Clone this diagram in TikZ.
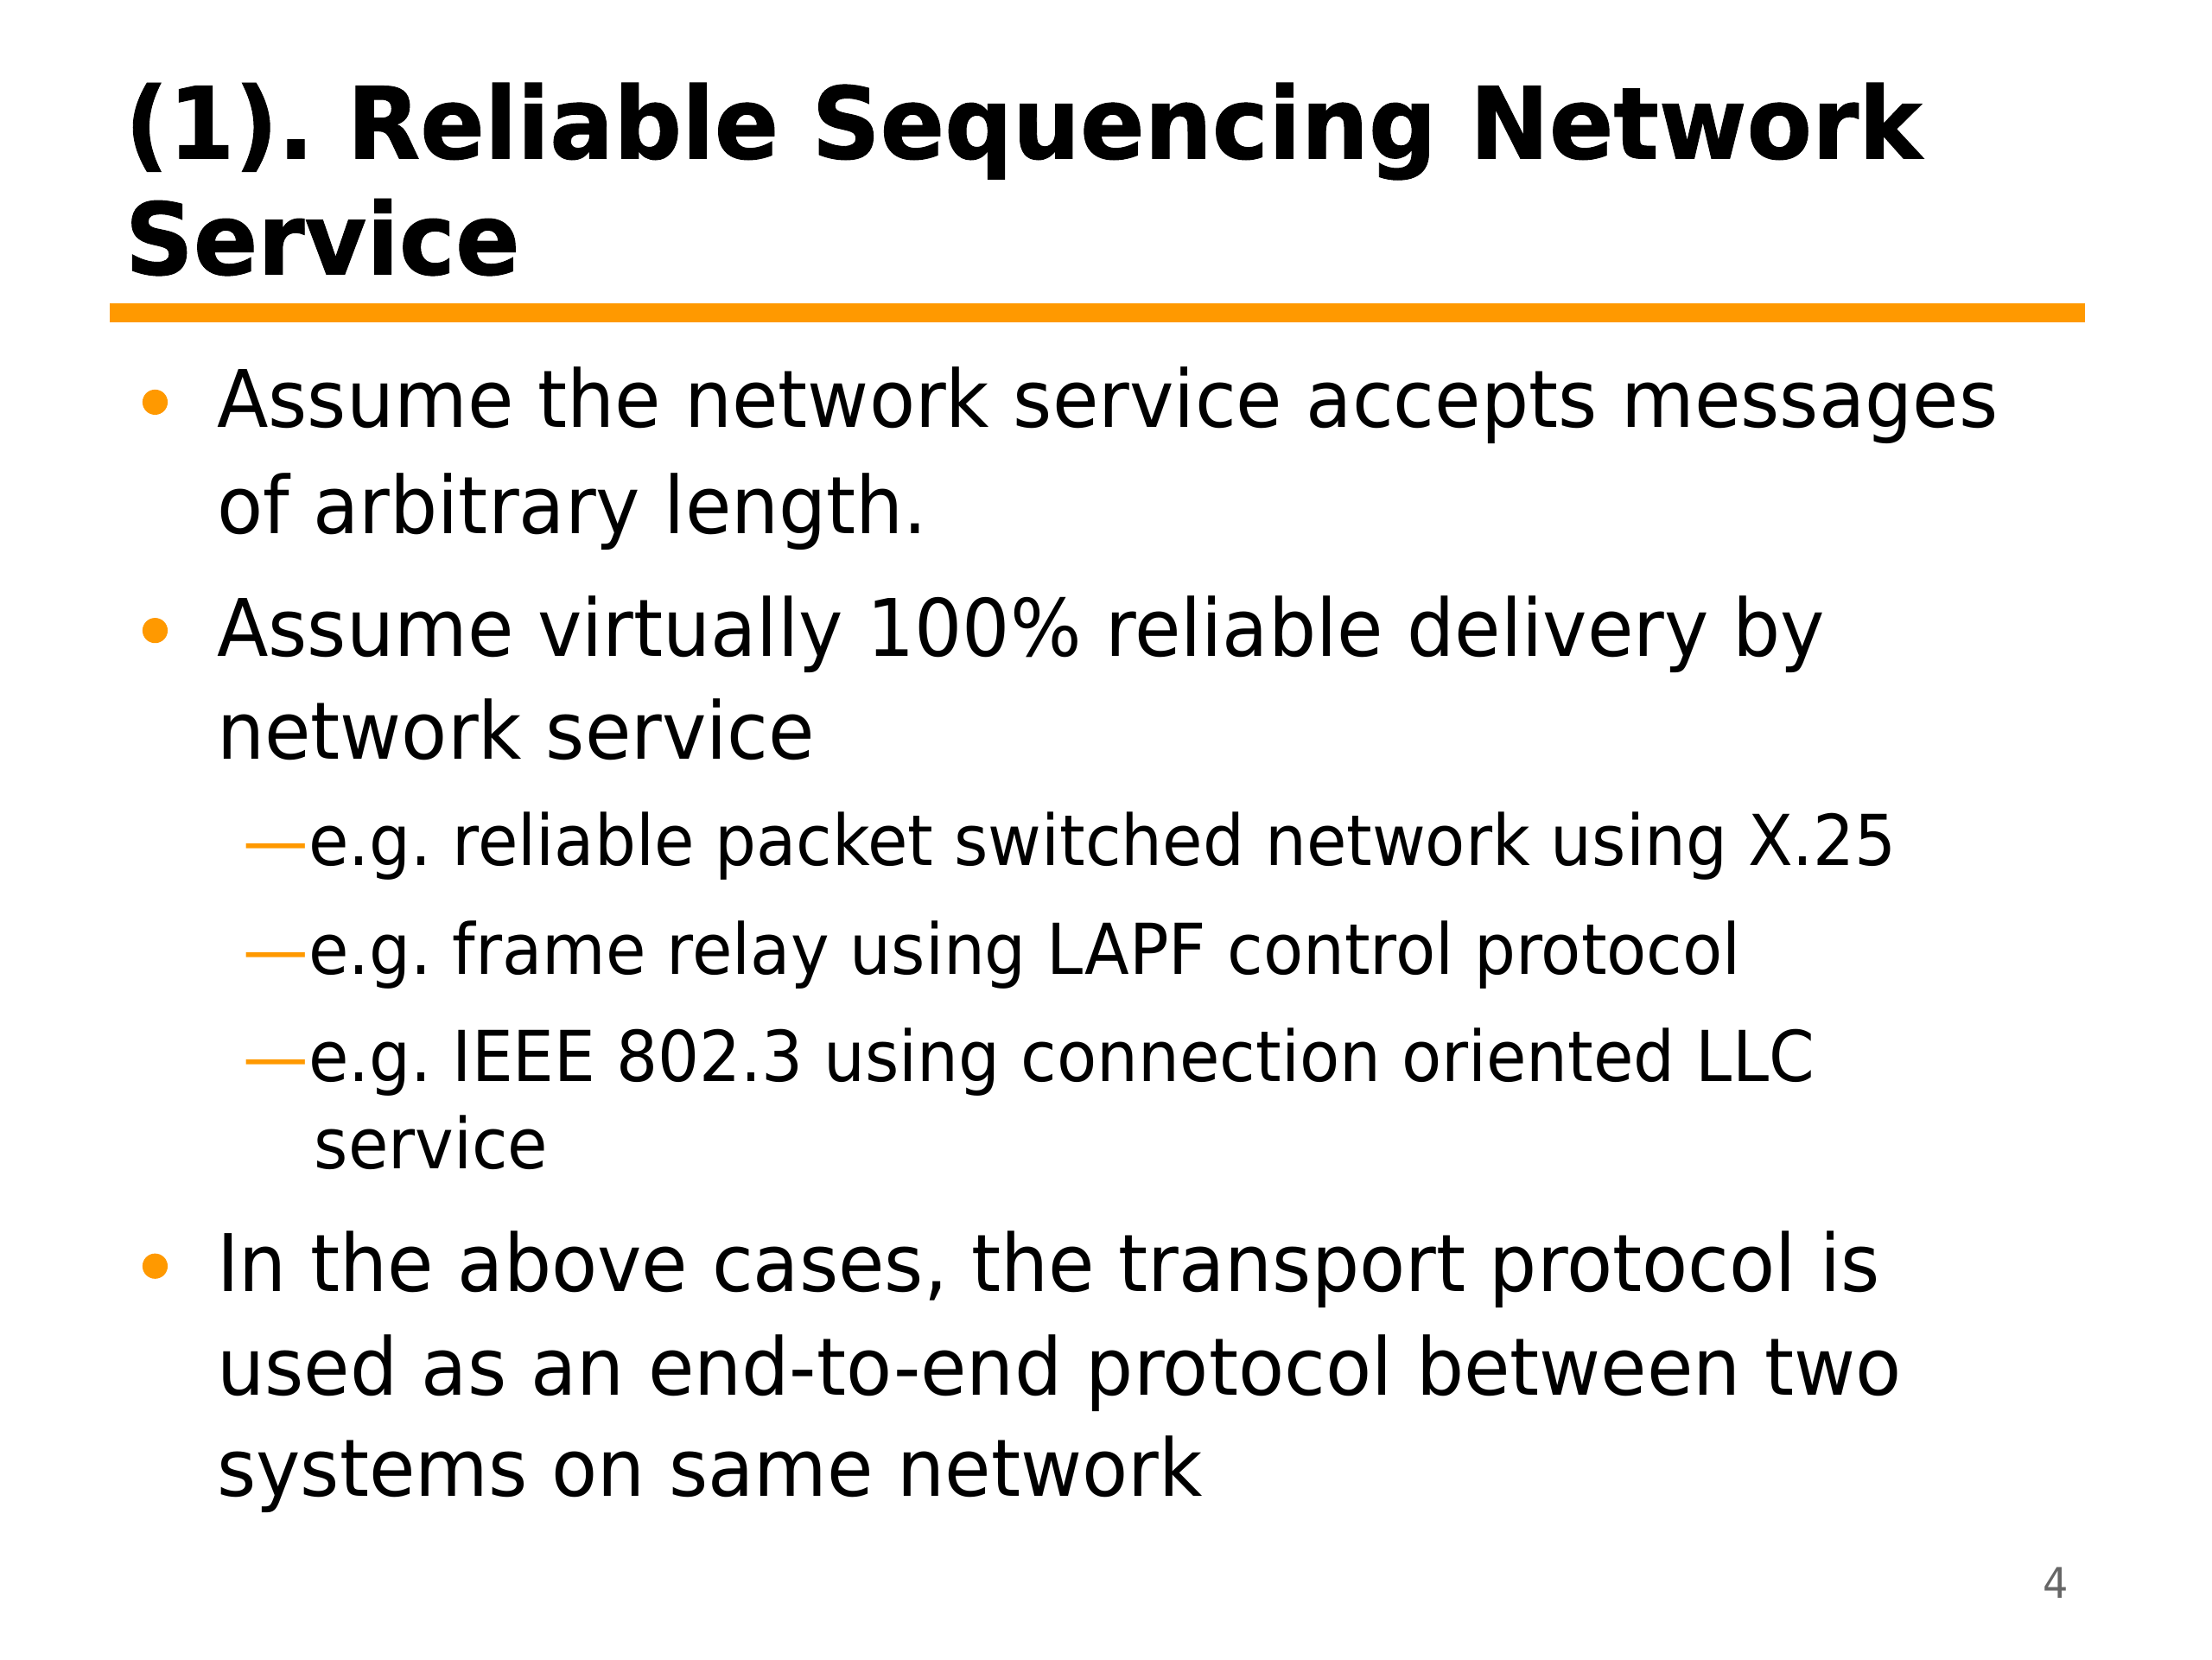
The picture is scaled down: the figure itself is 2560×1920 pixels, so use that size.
\documentclass[tikz,border=0pt]{standalone}
\usepackage{fontspec}
\setmainfont{DejaVu Sans}
\newfontfamily\titlefont[FakeStretch=0.954,FakeBold=0.8]{DejaVu Sans Bold}
\newfontfamily\bodyfont[FakeStretch=0.946]{DejaVu Sans}
\newfontfamily\subfont[FakeStretch=0.93]{DejaVu Sans}
\definecolor{slideorange}{HTML}{FF9900}
\definecolor{pagegray}{HTML}{666666}
\tikzset{
  titleline/.style={anchor=base west, inner sep=0pt, font=\titlefont\fontsize{28.8}{34}\selectfont},
  bodyline/.style={anchor=base west, inner sep=0pt, font=\bodyfont\fontsize{22.97}{28}\selectfont},
  subline/.style={anchor=base west, inner sep=0pt, font=\subfont\fontsize{20.31}{25}\selectfont},
  bulletdot/.style={fill=slideorange},
  pagenum/.style={anchor=base, inner sep=0pt, text=pagegray, font=\bodyfont\fontsize{12.2}{15}\selectfont}
}
\begin{document}
\frenchspacing
\begin{tikzpicture}[x=0.25pt,y=-0.25pt]
\useasboundingbox[fill=white] (0,0) rectangle (2560,1920);
\begin{scope}[scale=0.986]
% title
\node[titleline] (t1) at (146,186) {(1). Reliable Sequencing Network};
\node[titleline] (t2) at (146,322) {Service};
% rule
\fill[slideorange] (129,356) rectangle (2447,378);
% bullet 1
\fill[bulletdot] (182,472) circle (3.7pt);
\node[bodyline] (b1a) at (254,502) {Assume the network service accepts messages};
\node[bodyline] (b1b) at (254,626) {of arbitrary length.};
% bullet 2
\fill[bulletdot] (182,740) circle (3.7pt);
\node[bodyline] (b2a) at (254,770) {Assume virtually 100\% reliable delivery by};
\node[bodyline] (b2b) at (254,891) {network service};
% sub items
\node[subline] (s1) at (285,1016) {\textcolor{slideorange}{—}e.g. reliable packet switched network using X.25};
\node[subline] (s2) at (285,1143) {\textcolor{slideorange}{—}e.g. frame relay using LAPF control protocol};
\node[subline] (s3a) at (285,1269) {\textcolor{slideorange}{—}e.g. IEEE 802.3 using connection oriented LLC};
\node[subline] (s3b) at (368,1372) {service};
% bullet 3
\fill[bulletdot] (182,1486) circle (3.7pt);
\node[bodyline] (b3a) at (254,1516) {In the above cases, the transport protocol is};
\node[bodyline] (b3b) at (254,1637) {used as an end-to-end protocol between two};
\node[bodyline] (b3c) at (254,1756) {systems on same network};
% page number
\node[pagenum] (pn) at (2413,1876) {4};
\end{scope}
\end{tikzpicture}
\end{document}
